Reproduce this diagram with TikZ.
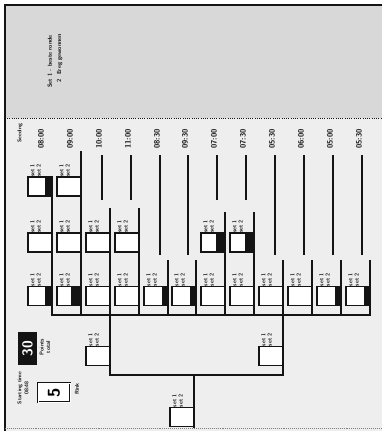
\documentclass[tikz,border=0pt]{standalone}
\usepackage{tikz}
\usetikzlibrary{positioning,calc}
\definecolor{ScanInk}{HTML}{141414}
\definecolor{ScanPaper}{HTML}{EEEEEE}
\definecolor{ScanShade}{HTML}{D8D8D8}
\tikzset{
  slotbox/.style={draw=ScanInk,fill=white,line width=0.8pt,inner sep=0pt,
    outer sep=0pt,minimum width=6mm,minimum height=4.75mm},
  slottag/.style={rotate=90,anchor=west,align=left,inner sep=0pt,
    text=ScanInk,font=\fontsize{4}{4.5}\selectfont\sffamily\bfseries},
  slot/.style={slotbox,label={[slottag,label distance=1.1mm]north:{set 1\\set 2}}},
  timetag/.style={rotate=90,anchor=west,inner sep=0pt,text=ScanInk,
    font=\fontsize{5.5}{6}\selectfont\sffamily\bfseries},
  notetag/.style={rotate=90,align=center,inner sep=0pt,text=ScanInk,
    font=\fontsize{4}{4.6}\selectfont\sffamily\bfseries},
  bracket/.style={ScanInk,line width=1.5pt,line cap=rect},
  byeline/.style={ScanInk,line width=1.1pt}
}

\begin{document}
\begin{tikzpicture}[x=0.25mm,y=-0.25mm]

        \useasboundingbox (0,0) rectangle (382,431);

        % scanned sheet
        \fill[ScanPaper] (5,5) rectangle (382,431);
        \fill[ScanShade] (5,5) rectangle (382,118);
        \draw[ScanInk,line width=1.6pt] (5,431) -- (5,5) -- (382,5);
        \draw[ScanInk,densely dotted,line width=0.6pt] (5,118) -- (382,118);
        \draw[gray,densely dotted,line width=0.4pt] (5,428) -- (382,428);

        \node[anchor=west,align=left,rotate=90,inner sep=0pt,text=ScanInk,
          font=\fontsize{4.2}{6.5}\selectfont\sffamily\bfseries]
          (legend) at (55,88)
          {Set 1 - beste ronde\\\hspace*{1.3mm}2 \ Ereg gewonnen};

        \node[timetag,font=\fontsize{3.8}{4}\selectfont\sffamily\bfseries]
          (seeding) at (20,143) {Seeding};

        % starting times
        \node[timetag] (t1) at (41,149) {08:00};
        \node[timetag] (t2) at (70,149) {09:00};
        \node[timetag] (t3) at (99,149) {10:00};
        \node[timetag] (t4) at (128,149) {11:00};
        \node[timetag] (t5) at (157,149) {08:30};
        \node[timetag] (t6) at (185,149) {09:30};
        \node[timetag] (t7) at (214,149) {07:00};
        \node[timetag] (t8) at (243,149) {07:30};
        \node[timetag] (t9) at (272,149) {05:30};
        \node[timetag] (t10) at (301,149) {06:00};
        \node[timetag] (t11) at (330,149) {05:00};
        \node[timetag] (t12) at (359,149) {05:30};

        % first row of slots
        \node[slot] (a1) at (40,186.5) {};
        \node[slot] (a2) at (69,186.5) {};

        % second row of slots
        \node[slot] (b1) at (40,242.5) {};
        \node[slot] (b2) at (69,242.5) {};
        \node[slot] (b3) at (98,242.5) {};
        \node[slot] (b4) at (127,242.5) {};
        \node[slot] (b7) at (213,242.5) {};
        \node[slot] (b8) at (242,242.5) {};

        % third row of slots
        \node[slot] (c1) at (40,296) {};
        \node[slot] (c2) at (69,296) {};
        \node[slot] (c3) at (98,296) {};
        \node[slot] (c4) at (127,296) {};
        \node[slot] (c5) at (156,296) {};
        \node[slot] (c6) at (184,296) {};
        \node[slot] (c7) at (213,296) {};
        \node[slot] (c8) at (242,296) {};
        \node[slot] (c9) at (271,296) {};
        \node[slot] (c10) at (300,296) {};
        \node[slot] (c11) at (329,296) {};
        \node[slot] (c12) at (358,296) {};

        % semi-finals and final
        \node[slot] (sfl) at (98,356) {};
        \node[slot] (sfr) at (271,356) {};
        \node[slot] (fin) at (182,417) {};

        % filled corners
        \fill[ScanInk] ([xshift=-1.75mm]a1.north east) rectangle (a1.south east);
        \fill[ScanInk] ([xshift=-2.2mm]b7.north east) rectangle (b7.south east);
        \fill[ScanInk] ([xshift=-2.2mm]b8.north east) rectangle (b8.south east);
        \fill[ScanInk] ([xshift=-1.75mm]c1.north east) rectangle (c1.south east);
        \fill[ScanInk] ([xshift=-2.4mm]c2.north east) rectangle (c2.south east);
        \fill[ScanInk] ([xshift=-1.4mm]c5.north east) rectangle (c5.south east);
        \fill[ScanInk] ([xshift=-1.4mm]c6.north east) rectangle (c6.south east);
        \fill[ScanInk] ([xshift=-1.4mm]c11.north east) rectangle (c11.south east);
        \fill[ScanInk] ([xshift=-1.4mm]c12.north east) rectangle (c12.south east);

        % empty lanes under the times
        \draw[byeline] (t3.west) ++(3,6) -- ++(0,45);
        \draw[byeline] (t4.west) ++(3,6) -- ++(0,45);
        \draw[byeline] (t5.west) ++(3,6) -- ++(0,100);
        \draw[byeline] (t6.west) ++(3,6) -- ++(0,100);
        \draw[byeline] (t7.west) ++(3,6) -- ++(0,45);
        \draw[byeline] (t8.west) ++(3,6) -- ++(0,45);
        \draw[byeline] (t9.west) ++(3,6) -- ++(0,100);
        \draw[byeline] (t10.west) ++(3,6) -- ++(0,100);
        \draw[byeline] (t11.west) ++(3,6) -- ++(0,100);
        \draw[byeline] (t12.west) ++(3,6) -- ++(0,100);

        % bracket
        \coordinate (base) at (0,315);
        \coordinate (lowbar) at (0,375);

        \draw[bracket] (a1.north east) -- (a1.north east |- base);
        \draw[bracket] (a2.east |- t2.west) ++(0,3) -- (a2.east |- base);
        \draw[bracket] (b3.north east) ++(0,-24) -- (b3.north east |- base);
        \draw[bracket] (b4.north east) ++(0,-24) -- (b4.north east |- base);
        \draw[bracket] (c5.north east) ++(0,-25) -- (c5.north east |- base);
        \draw[bracket] (c6.north east) ++(0,-25) -- (c6.north east |- base);
        \draw[bracket] (b7.north east) ++(0,-20) -- (b7.north east |- base);
        \draw[bracket] (b8.north east) ++(0,-20) -- (b8.north east |- base);
        \draw[bracket] (c9.north east) ++(0,-25) -- (c9.north east |- base);
        \draw[bracket] (c10.north east) ++(0,-25) -- (c10.north east |- base);
        \draw[bracket] (c11.north east) ++(0,-25) -- (c11.north east |- base);
        \draw[bracket] (c12.north east) ++(0,-25) -- (c12.north east |- base);

        \draw[bracket] (a1.north east |- base) -- (c12.north east |- base);

        \draw[bracket] (sfl.east |- base) -- (sfl.east |- lowbar)
          -- (sfr.east |- lowbar) -- (sfr.east |- base);
        \draw[bracket] (fin.east |- lowbar) -- (fin.south east);

        % totals
        \node[rotate=90,fill=ScanInk,text=white,inner sep=0pt,
          minimum width=8.25mm,minimum height=4.75mm,
          font=\fontsize{10}{10}\selectfont\sffamily\bfseries]
          (points) at (27.5,348.5) {30};
        \node[notetag] (pointsnote) at (45,347) {Points\\total};

        \node[rotate=90,draw=ScanInk,double,double distance=0.6pt,
          line width=0.5pt,fill=white,inner sep=0pt,
          minimum width=4.75mm,minimum height=8mm,
          font=\fontsize{12}{12}\selectfont\sffamily\bfseries]
          (rinks) at (54,392.5) {5};
        \node[notetag,font=\fontsize{3.8}{5}\selectfont\sffamily\bfseries]
          (startnote) at (23,388) {Starting time\\08:48};
        \node[notetag] (rinknote) at (77,389) {Rink};

      \end{tikzpicture}
\end{document}
